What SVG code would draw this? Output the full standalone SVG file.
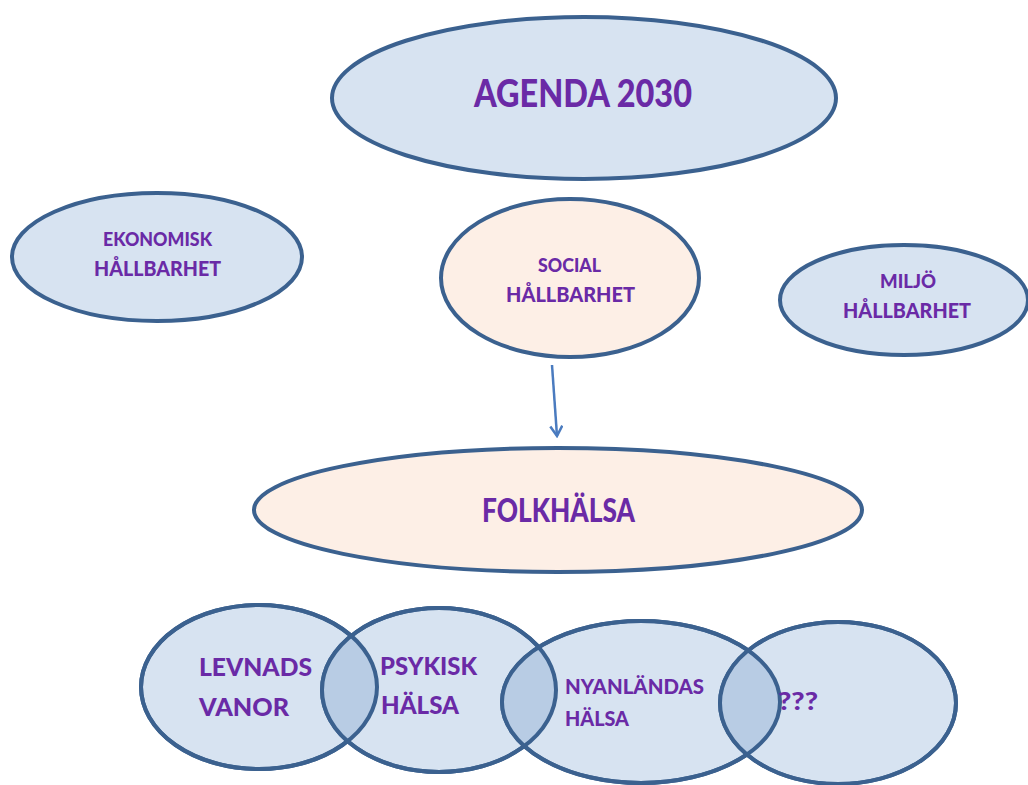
<svg xmlns="http://www.w3.org/2000/svg" width="1028" height="785" viewBox="0 0 1028 785">
<style>
.n{fill:#d7e3f1;stroke:#3b618f;stroke-width:4}
.p{fill:#fdefe6;stroke:#3b618f;stroke-width:4}
.ov{fill:#b8cce4}
.o{fill:none;stroke:#3b618f;stroke-width:4}
text{font-family:Lato,"Open Sans","Liberation Sans",sans-serif;font-weight:900;fill:#6a2aa6;text-anchor:start}
</style>
<defs>
<clipPath id="cL"><ellipse cx="259" cy="687" rx="118" ry="82"/></clipPath>
<clipPath id="cP"><ellipse cx="439" cy="690" rx="117" ry="82"/></clipPath>
<clipPath id="cN"><ellipse cx="641" cy="702" rx="139" ry="81"/></clipPath>
<marker id="ah" viewBox="0 0 14 14" refX="12" refY="7" markerWidth="14" markerHeight="14" markerUnits="userSpaceOnUse" orient="auto">
<path d="M2,1 L12,7 L2,13" fill="none" stroke="#4a7bbf" stroke-width="2.5"/>
</marker>
</defs>
<rect width="1028" height="785" fill="#fff"/>
<g id="agenda"><ellipse class="n" cx="584" cy="98" rx="252" ry="81"/><text x="474" y="107" font-size="37" textLength="218" lengthAdjust="spacingAndGlyphs">AGENDA 2030</text></g>
<g id="ekonomisk"><ellipse class="n" cx="157" cy="257" rx="145" ry="64"/><text x="103" y="246" font-size="19" textLength="109" lengthAdjust="spacingAndGlyphs">EKONOMISK</text><text x="94" y="276" font-size="21" textLength="127" lengthAdjust="spacingAndGlyphs">HÅLLBARHET</text></g>
<g id="social"><ellipse class="p" cx="570" cy="278" rx="129" ry="79"/><text x="538" y="272" font-size="19" textLength="63" lengthAdjust="spacingAndGlyphs">SOCIAL</text><text x="506" y="302" font-size="21" textLength="129" lengthAdjust="spacingAndGlyphs">HÅLLBARHET</text></g>
<g id="miljo"><ellipse class="n" cx="904" cy="300" rx="124" ry="55"/><text x="880" y="288" font-size="19" textLength="56" lengthAdjust="spacingAndGlyphs">MILJÖ</text><text x="843" y="318" font-size="21" textLength="128" lengthAdjust="spacingAndGlyphs">HÅLLBARHET</text></g>
<g id="connectors"><line x1="552" y1="365" x2="557" y2="436" stroke="#4a7bbf" stroke-width="2.5" marker-end="url(#ah)"/></g>
<g id="folkhalsa"><ellipse class="p" cx="558" cy="510" rx="304" ry="62"/><text x="482" y="522" font-size="33" textLength="153" lengthAdjust="spacingAndGlyphs">FOLKHÄLSA</text></g>
<g id="levnads"><ellipse class="n" cx="259" cy="687" rx="118" ry="82"/></g>
<g id="psykisk"><ellipse class="n" cx="439" cy="690" rx="117" ry="82"/></g>
<g id="nyanlandas"><ellipse class="n" cx="641" cy="702" rx="139" ry="81"/></g>
<g id="unknown"><ellipse class="n" cx="838" cy="703" rx="118" ry="81"/></g>
<g id="overlaps">
<ellipse class="ov" cx="439" cy="690" rx="117" ry="82" clip-path="url(#cL)"/>
<ellipse class="ov" cx="641" cy="702" rx="139" ry="81" clip-path="url(#cP)"/>
<ellipse class="ov" cx="838" cy="703" rx="118" ry="81" clip-path="url(#cN)"/>
<ellipse class="o" cx="259" cy="687" rx="118" ry="82"/>
<ellipse class="o" cx="439" cy="690" rx="117" ry="82"/>
<ellipse class="o" cx="641" cy="702" rx="139" ry="81"/>
<ellipse class="o" cx="838" cy="703" rx="118" ry="81"/>
</g>
<g id="labels">
<text x="199" y="676" font-size="25" textLength="113" lengthAdjust="spacingAndGlyphs">LEVNADS</text><text x="199" y="716" font-size="25" textLength="90" lengthAdjust="spacingAndGlyphs">VANOR</text>
<text x="380" y="675" font-size="25" textLength="97" lengthAdjust="spacingAndGlyphs">PSYKISK</text><text x="381" y="714" font-size="25" textLength="78" lengthAdjust="spacingAndGlyphs">HÄLSA</text>
<text x="565" y="694" font-size="21" textLength="139" lengthAdjust="spacingAndGlyphs">NYANLÄNDAS</text><text x="565" y="726" font-size="21" textLength="64" lengthAdjust="spacingAndGlyphs">HÄLSA</text>
<text x="778" y="710" font-size="25" textLength="40" lengthAdjust="spacingAndGlyphs">???</text>
</g>
</svg>
